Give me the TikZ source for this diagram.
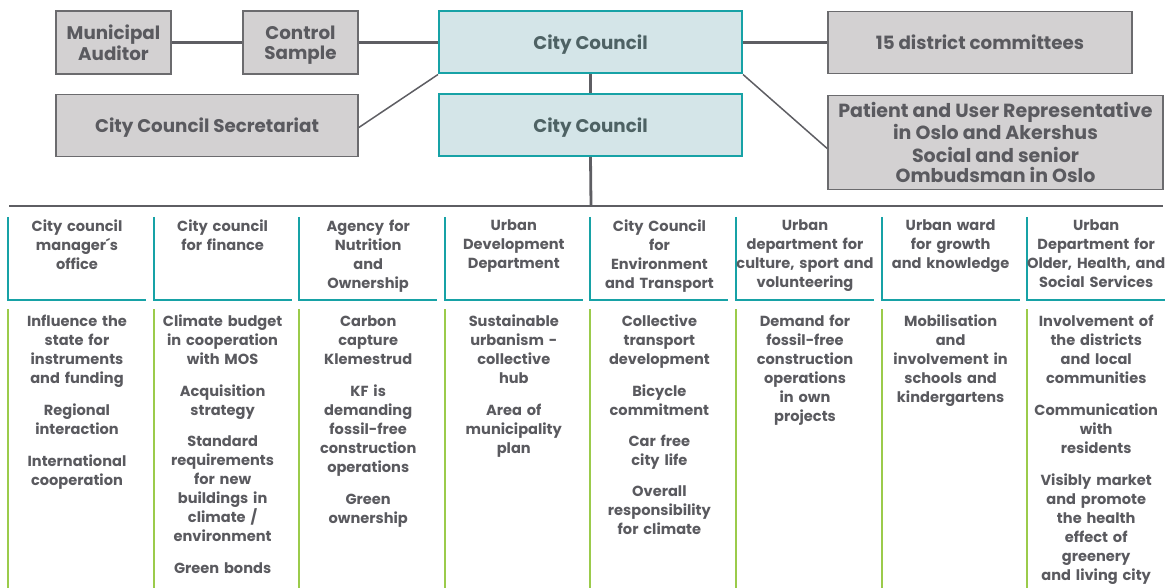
\documentclass[tikz,border=0pt]{standalone}
\usepackage{fontspec}
\setmainfont{Poppins}
\usetikzlibrary{calc}
\definecolor{txt}{HTML}{5A5A5F}
\definecolor{cctxt}{HTML}{4E6264}
\definecolor{boxfill}{HTML}{D3D1D2}
\definecolor{boxline}{HTML}{6B6B6E}
\definecolor{ccfill}{HTML}{D4E5E8}
\definecolor{teal}{HTML}{17A2A6}
\definecolor{green}{HTML}{9BCB4B}
\definecolor{conn}{HTML}{5E5E63}
\newcommand{\nodepth}[1]{\raisebox{0pt}[\height][0pt]{#1}}
\begin{document}
\begin{tikzpicture}[x=1pt,y=-1pt,
  graybox/.style={draw=boxline,line width=1.6pt,fill=boxfill,inner sep=0pt,align=center,
    text=txt,font=\fontsize{18.3}{19.5}\selectfont\bfseries},
  ccbox/.style={draw=teal,line width=2pt,fill=ccfill,inner sep=0pt,align=center,
    text=cctxt,font=\fontsize{18.3}{19.5}\selectfont\bfseries,minimum width=303pt,minimum height=62pt},
  thick conn/.style={draw=conn,line width=2.8pt},
  thin conn/.style={draw=conn,line width=1.5pt},
  headtxt/.style={anchor=north,inner sep=0pt,text width=150pt,align=center,text=txt,
    font=\fontsize{14.6}{19}\selectfont\bfseries},
  bodytxt/.style={anchor=north,inner sep=0pt,text width=150pt,align=center,text=txt,
    font=\fontsize{14.6}{19}\selectfont\bfseries},
  tealline/.style={draw=teal,line width=2pt},
  greenline/.style={draw=green,line width=2pt}
]
\useasboundingbox (0,0) rectangle (1173,588);

% top boxes
\node[graybox,minimum width=115pt,minimum height=63pt] (aud) at (113.5,42.5) {Municipal\\Auditor};
\node[graybox,minimum width=115pt,minimum height=63pt] (ctl) at (300.5,42.5) {Control\\\nodepth{Sample}};
\node[graybox,minimum width=302pt,minimum height=62pt] (sec) at (207,125.5) {\nodepth{City Council Secretariat}};
\node[ccbox] (cc1) at (590.5,42.5) {\nodepth{City Council}};
\node[ccbox] (cc2) at (590.5,125) {\nodepth{City Council}};
\node[graybox,minimum width=304pt,minimum height=62pt] (dist) at (980,42.5) {15 district committees};
\node[graybox,minimum width=335pt,minimum height=94pt,font=\fontsize{19}{19.3}\selectfont\bfseries] (pat) at (995.5,142.5)
  {Patient and User Representative\\in Oslo and Akershus\\[4.5pt]Social and senior\\Ombudsman in Oslo};

% connectors
\draw[thick conn] (aud.east) -- (ctl.west);
\draw[thick conn] (ctl.east) -- (cc1.west);
\draw[thick conn] (cc1.east) -- (dist.west);
\draw[thick conn] (cc1.south) -- (cc2.north);
\draw[thin conn] (cc1.south west) -- ($(sec.east)+(0,2)$);
\draw[thin conn] (cc1.south east) -- ($(pat.west)+(0,6)$);
\coordinate (barL) at (9,206);
\coordinate (barR) at (1163,206);
\coordinate (barM) at (591,206);
\draw[thick conn] (cc2.south) -- (barM);
\draw[draw=conn,line width=2.2pt] (barL) -- (barR);

% columns
\foreach \i in {0,...,7}{
  \pgfmathsetmacro{\xl}{8+\i*145.6}
  \draw[tealline] (\xl,217) -- (\xl,300) -- (\xl+138,300);
  \draw[greenline] (\xl,309) -- (\xl,588);
}

\node[headtxt] (h1) at (77,219.5) {City council\\manager´s\\office};
\node[headtxt] (h2) at (222.6,219.5) {City council\\for finance};
\node[headtxt] (h3) at (368.2,219.5) {Agency for\\Nutrition\\and\\Ownership};
\node[headtxt] (h4) at (513.8,219.5) {Urban\\Development\\Department};
\node[headtxt] (h5) at (659.4,219.5) {City Council\\for\\Environment\\and Transport};
\node[headtxt] (h6) at (805,219.5) {Urban\\department for\\culture, sport and\\volunteering};
\node[headtxt] (h7) at (950.6,219.5) {Urban ward\\for growth\\and knowledge};
\node[headtxt] (h8) at (1096.2,219.5) {Urban\\Department for\\Older, Health, and\\Social Services};

\node[bodytxt] (b1) at (77,315) {Influence the\\state for\\instruments\\and funding\\[13pt]Regional\\interaction\\[13pt]International\\cooperation};
\node[bodytxt] (b2) at (222.6,315) {Climate budget\\in cooperation\\with MOS\\[13pt]Acquisition\\strategy\\[12pt]Standard\\requirements\\for new\\buildings in\\climate /\\environment\\[13pt]Green bonds};
\node[bodytxt] (b3) at (368.2,315) {Carbon\\capture\\Klemestrud\\[13pt]KF is\\demanding\\fossil-free\\construction\\operations\\[13pt]Green\\ownership};
\node[bodytxt] (b4) at (513.8,315) {Sustainable\\urbanism -\\collective\\hub\\[13pt]Area of\\municipality\\plan};
\node[bodytxt] (b5) at (659.4,315) {Collective\\transport\\development\\[13pt]Bicycle\\commitment\\[12pt]Car free\\city life\\[12pt]Overall\\responsibility\\for climate};
\node[bodytxt] (b6) at (805,315) {Demand for\\fossil-free\\construction\\operations\\in own\\projects};
\node[bodytxt] (b7) at (950.6,315) {Mobilisation\\and\\involvement in\\schools and\\kindergartens};
\node[bodytxt] (b8) at (1096.2,315) {Involvement of\\the districts\\and local\\communities\\[13pt]Communication\\with\\residents\\[13pt]Visibly market\\and promote\\the health\\effect of\\greenery\\and living city};
\end{tikzpicture}
\end{document}
